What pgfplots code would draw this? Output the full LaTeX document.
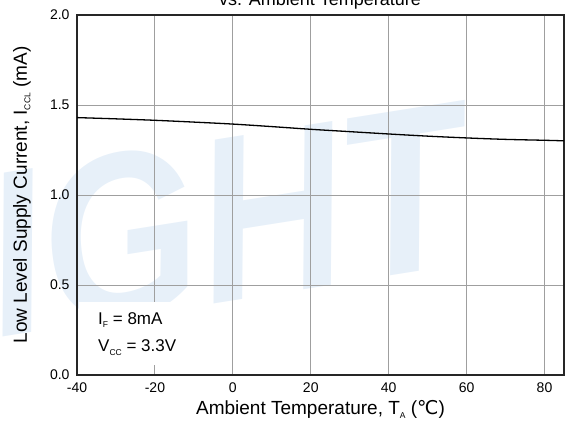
\documentclass[border=0pt]{standalone}
\usepackage{pgfplots}
\pgfplotsset{compat=1.18}
\usepackage{fontspec}
\setmainfont{Liberation Sans}
\newfontfamily\dejavu{DejaVu Sans}
\definecolor{wm}{RGB}{231,240,249}
\newcommand{\sub}[1]{\raisebox{-3.5pt}{\fontsize{8.5}{8.5}\selectfont #1}}
\begin{document}
\begin{tikzpicture}[x=1pt,y=1pt]
\useasboundingbox (0,0) rectangle (567,425);
\node[rotate=9,xscale=0.86,text=wm,font=\bfseries\itshape\fontsize{235}{235}\selectfont,anchor=center] at (225,205) {IGHT};
\node[anchor=base,inner sep=0pt,font=\fontsize{18}{20}\selectfont] at (320,419) {vs. Ambient Temperature};
\begin{axis}[
  at={(77pt,50pt)}, anchor=south west,
  scale only axis, width=487pt, height=360pt,
  xmin=-40, xmax=85, ymin=0, ymax=2,
  xtick={-40,-20,0,20,40,60,80},
  ytick={0,0.5,1,1.5,2},
  yticklabel style={xshift=-4pt,/pgf/number format/fixed,/pgf/number format/fixed zerofill,/pgf/number format/precision=1},
  /pgf/number format/assume math mode=true,
  tick label style={font=\fontsize{14}{16}\selectfont},
  major tick length=0pt,
  grid=major,
  major grid style={gray!75,line width=0.9pt},
  axis line style={black!85,line width=1.3pt},
  xlabel={Ambient Temperature, T\sub{A} ({\dejavu ℃})},
  ylabel={Low Level Supply Current, I\sub{CCL} (mA)},
  label style={font=\fontsize{19}{21}\selectfont},
  xlabel style={at={(axis description cs:0.5,-0.111)},anchor=base},
  ylabel style={at={(axis description cs:-0.113,0.5)},anchor=center},
  xticklabel style={yshift=-4pt},
]
\fill[white] (axis cs:-39.6,0.056) rectangle (axis cs:-10,0.406);
\addplot[black,line width=1.3pt,smooth] coordinates {
(-40,1.430) (-30,1.423) (-20,1.415) (-10,1.405) (0,1.394) (10,1.380)
(20,1.365) (30,1.352) (40,1.339) (50,1.327) (60,1.317) (70,1.309)
(80,1.304) (85,1.301)};
\node[anchor=base west,inner sep=0pt,font=\fontsize{17}{19}\selectfont] at (axis cs:-34.6,0.283) {I\sub{F} = 8mA};
\node[anchor=base west,inner sep=0pt,font=\fontsize{17}{19}\selectfont] at (axis cs:-34.6,0.128) {V\sub{CC} = 3.3V};
\end{axis}
\end{tikzpicture}
\end{document}
